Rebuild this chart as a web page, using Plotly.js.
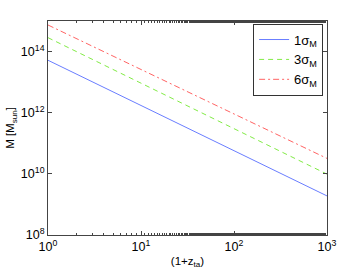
<!DOCTYPE html>
<html><head><meta charset="utf-8">
<script src="https://cdn.plot.ly/plotly-3.0.1.min.js"></script>
<style>html,body{margin:0;padding:0;background:#fff}#chart{width:361px;height:272px}</style>
</head><body><div id="chart"></div>
<script>
const xVals = [1, 10, 100, 1000];
const sigma1 = [5.2e13, 1.74e12, 5.8e10, 1.9e9];
const sigma3 = [2.85e14, 9.3e12, 3.0e11, 9.8e9];
const sigma6 = [7.4e14, 2.6e13, 9.1e11, 3.2e10];
const seriesNames = ['1σ<sub>M</sub>', '3σ<sub>M</sub>', '6σ<sub>M</sub>'];
const xTickVals = [1, 10, 100, 1000];
const xTickText = ['10<sup>0</sup>', '10<sup>1</sup>', '10<sup>2</sup>', '10<sup>3</sup>'];
const yTickVals = [1e8, 1e10, 1e12, 1e14];
const yTickText = ['10<sup>8</sup>', '10<sup>10</sup>', '10<sup>12</sup>', '10<sup>14</sup>'];

const fam = 'Liberation Sans, Arial, sans-serif';
const font = {family: fam, size: 12.5, color: '#000'};
const traces = [
  {x: xVals, y: sigma1, name: seriesNames[0], mode: 'lines', line: {color: 'rgb(105,125,255)', width: 1, dash: 'solid'}},
  {x: xVals, y: sigma3, name: seriesNames[1], mode: 'lines', line: {color: 'rgb(130,235,70)', width: 1, dash: '5px,4px'}},
  {x: xVals, y: sigma6, name: seriesNames[2], mode: 'lines', line: {color: 'rgb(255,100,100)', width: 1, dash: '6px,3px,2px,3px'}}
];
const axisCommon = {
  type: 'log', showgrid: false, zeroline: false, showline: true, linecolor: '#444', linewidth: 1,
  mirror: 'ticks', ticks: 'inside', ticklen: 4, tickcolor: '#444', tickfont: font
};
const layout = {
  width: 361, height: 272,
  margin: {l: 48, r: 34, t: 21, b: 37},
  paper_bgcolor: '#fff', plot_bgcolor: '#fff',
  font: font,
  showlegend: true,
  legend: {x: 0.986, y: 0.988, xanchor: 'right', yanchor: 'top', bordercolor: '#333', borderwidth: 1,
           bgcolor: '#fff', font: {family: fam, size: 13}, itemwidth: 30},
  xaxis: Object.assign({}, axisCommon, {
    range: [0, 3], tickvals: xTickVals, ticktext: xTickText,
    minor: {ticks: 'inside', ticklen: 2, tickcolor: '#444', showgrid: false},
    title: {text: '(1+z<sub>ta</sub>)', font: {family: fam, size: 11.5}, standoff: 3}
  }),
  yaxis: Object.assign({}, axisCommon, {
    range: [8, 15], tickvals: yTickVals, ticktext: yTickText,
    title: {text: 'M [M<sub>sun</sub>]', font: {family: fam, size: 11.5}, standoff: 3}
  })
};
Plotly.newPlot('chart', traces, layout, {staticPlot: true, displayModeBar: false});
</script></body></html>
